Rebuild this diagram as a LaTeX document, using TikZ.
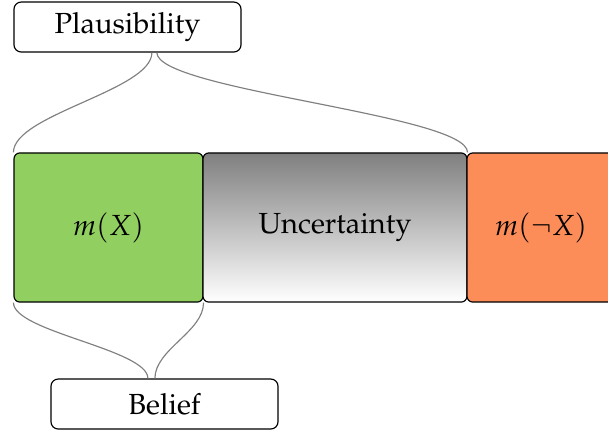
\documentclass[tikz,border=0pt]{standalone}
\usepackage[T1]{fontenc}
\usepackage{mathpazo}
\usetikzlibrary{calc}

\definecolor{beliefgreen}{HTML}{91CF60}
\definecolor{disbeliefred}{HTML}{FC8D59}

\begin{document}
\begin{tikzpicture}[
    x=0.344pt, y=-0.344pt,
    massbox/.style={draw,rounded corners=2pt,inner sep=0pt,minimum height=51.3pt},
    labelbox/.style={draw,rounded corners=2.5pt,inner sep=0pt,minimum width=78.1pt,minimum height=17.2pt,fill=white},
    brace/.style={gray,thin},
]
\useasboundingbox (0,0) rectangle (608,434);

% =====================================================
% mass bar
% =====================================================

\node[massbox,fill=beliefgreen,minimum width=65pt] (mx) at (108.5,227.5) {$m(X)$};
\node[massbox,top color=black!50,bottom color=white,minimum width=90.8pt] (unc) at (335,227.5) {Uncertainty};
\node[massbox,fill=disbeliefred,minimum width=50.9pt] (mnx) at (541,227.5) {$m(\neg X)$};

% =====================================================
% labels
% =====================================================

\node[labelbox] (plaus) at (127.5,27) {Plausibility};
\node[labelbox] (belief) at (164.5,404) {Belief};

\draw[brace]
    ([xshift=8.4pt]plaus.south)
    to[out=-90,in=90,distance=13pt]
    (mx.north west);
\draw[brace]
    ([xshift=10.1pt]plaus.south)
    to[out=-90,in=90,distance=13pt]
    (unc.north east);

\draw[brace]
    ([xshift=-5.7pt]belief.north)
    to[out=90,in=-90,distance=10pt]
    (mx.south west);
\draw[brace]
    ([xshift=-3.3pt]belief.north)
    to[out=90,in=-90,distance=10pt]
    (mx.south east);

\end{tikzpicture}
\end{document}
